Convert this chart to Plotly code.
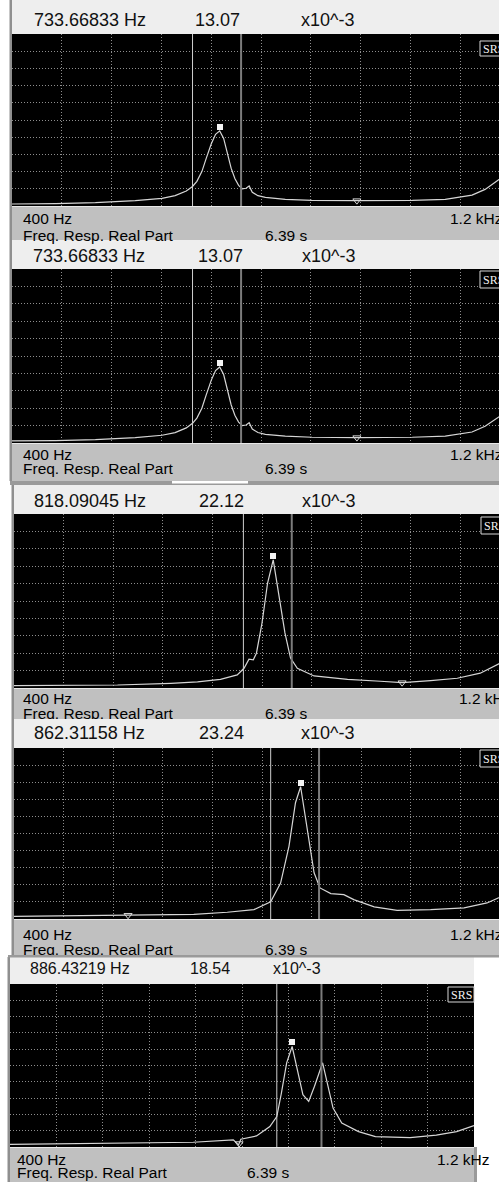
import numpy as np
import plotly.graph_objects as go

W, H = 499, 1182
SANS = "Liberation Sans"
SERIF = "Liberation Serif"

# ---------------- data (response values in units of 10^-3) ----------------
freq_a = [400, 470, 534, 598, 641, 662, 680, 690, 697, 705, 712, 720, 727, 733.67,
          740, 746, 752, 758, 764, 770, 776, 781, 786, 795, 807, 839, 882, 954,
          1043, 1096, 1139, 1160, 1182, 1200]
resp_a = [0.35, 0.40, 0.58, 0.93, 1.34, 1.8, 2.6, 3.4, 4.3, 6.0, 8.3, 10.8, 12.5, 13.1,
          11.8, 9.2, 6.6, 4.8, 3.6, 3.0, 3.1, 3.5, 2.4, 1.8, 1.5, 1.17, 0.99, 0.93,
          0.99, 1.17, 1.9, 2.9, 4.5, 6.0]

freq_c = [400, 567, 653, 696, 733, 760, 771, 779, 786, 791, 800, 809, 818.09, 827,
          837, 846, 857, 884, 938, 991, 1026, 1072, 1115, 1152, 1182, 1200]
resp_c = [0.40, 0.52, 0.81, 1.04, 1.5, 2.25, 3.4, 4.97, 4.85, 6.0, 11.2, 18.1, 22.1, 16.4,
          9.5, 5.15, 3.4, 2.08, 1.5, 1.16, 0.92, 1.27, 1.68, 2.55, 4.16, 5.6]

freq_d = [400, 584, 690, 744, 787, 814, 830, 843.5, 854, 862.31, 868, 876, 884, 893.5,
          911, 932, 948, 981, 1018, 1072, 1126, 1163, 1182, 1200]
resp_d = [0.47, 0.65, 0.80, 1.18, 1.65, 3.0, 6.3, 12.75, 20.4, 23.2, 19.2, 13.35, 8.1, 5.45,
          4.45, 4.28, 3.4, 2.12, 1.53, 1.65, 1.95, 2.82, 3.7, 4.6]

freq_e = [400, 567, 716, 785, 794, 798, 825, 848, 860, 868, 877, 886.43, 895, 905,
          915, 925, 939, 947, 957, 972, 1001, 1030, 1090, 1135, 1170, 1200]
resp_e = [0.50, 0.68, 0.87, 1.3, 0.37, 1.42, 2.04, 3.76, 5.6, 9.95, 15.5, 18.5, 14.26, 9.63,
          8.4, 11.17, 15.5, 11.8, 7.17, 4.39, 2.83, 1.9, 1.72, 2.2, 2.83, 3.95]

peak_freqs = [733.66833, 733.66833, 818.09045, 862.31158, 886.43219]
peak_vals = [13.07, 13.07, 22.12, 23.24, 18.54]
cursor_a = [690, 690, 770, 814, 860]
cursor_b = [768, 768, 848, 892, 937]
tri_freqs = [954, 954, 1026, 584, 795]
f_start, f_stop = 400, 1200
y_full = 30
unit_label = "x10^-3"
start_label = "400 Hz"
stop_label = "1.2 kHz"
meas_label = "Freq. Resp. Real Part"
time_label = "6.39 s"

curves = [(freq_a, resp_a), (freq_a, resp_a), (freq_c, resp_c), (freq_d, resp_d), (freq_e, resp_e)]

# ---------------- layout geometry (pixels) ----------------
geo = [
    dict(left=12, span=498, right=499, head=0, top=34, bot=206, foot=240),
    dict(left=12, span=498, right=499, head=240, top=269, bot=443, foot=481),
    dict(left=14, span=496, right=499, head=485, top=514, bot=688, foot=719),
    dict(left=14, span=496, right=499, head=719, top=748, bot=919, foot=955),
    dict(left=10, span=464, right=474, head=957, top=984, bot=1147, foot=1182),
]
head_y = [20, 256, 501, 733, 968]
head_fs = [18, 18, 18, 18, 16]
hx_freq = [32, 31, 32, 32, 28]
hx_val = [193, 196, 197, 197, 188]
hx_unit = [299, 300, 300, 299, 271]
foot_y1 = [219, 455, 698, 934, 1159]
foot_y2 = [235, 469, 713, 949, 1172]
foot_cut = [False, False, True, True, False]
fx_left = [21, 21, 21, 21, 15]
fx_time = [263, 263, 263, 263, 245]
fx_stop = [448, 448, 457, 448, 435]
srs_box = [(480, 41, 520, 56), (480, 271, 520, 288), (481, 517, 520, 534),
           (480, 750, 520, 767), (448, 987, 474, 1002)]


def px(x):
    return x / W


def py(y):
    return 1 - y / H


fig = go.Figure()
shapes = []
annotations = []
layout_axes = {}

for i, (g, (fr, rs)) in enumerate(zip(geo, curves)):
    n = i + 1
    xa = "x" if n == 1 else f"x{n}"
    ya = "y" if n == 1 else f"y{n}"
    xkey = "xaxis" if n == 1 else f"xaxis{n}"
    ykey = "yaxis" if n == 1 else f"yaxis{n}"
    vis_right = min(g["left"] + g["span"], W)
    x_hi = f_start + (vis_right - g["left"]) / g["span"] * (f_stop - f_start)
    dom_r = min(vis_right, g["right"]) / W

    layout_axes[xkey] = dict(
        domain=[px(g["left"]), dom_r], range=[f_start, x_hi], anchor=ya,
        tick0=f_start, dtick=(f_stop - f_start) / 10, showgrid=True,
        gridcolor="#8e8e8e", griddash="1px,2px", gridwidth=1,
        showticklabels=False, ticks="", zeroline=False, showline=False, fixedrange=True)
    layout_axes[ykey] = dict(
        domain=[py(g["bot"]), py(g["top"])], range=[0, y_full], anchor=xa,
        tick0=0, dtick=y_full / 10, showgrid=True,
        gridcolor="#8e8e8e", griddash="1px,2px", gridwidth=1,
        showticklabels=False, ticks="", zeroline=False, showline=False, fixedrange=True)

    # curve
    fig.add_trace(go.Scatter(x=fr, y=rs, xaxis=xa, yaxis=ya, mode="lines",
                             line=dict(color="#d6d6d6", width=1.2), hoverinfo="skip",
                             showlegend=False))
    # small triangle marker on trace
    ty = float(np.interp(tri_freqs[i], fr, rs))
    fig.add_trace(go.Scatter(x=[tri_freqs[i]], y=[ty], xaxis=xa, yaxis=ya, mode="markers",
                             marker=dict(symbol="triangle-down-open", size=7,
                                         color="#d8d8d8", line=dict(width=1)),
                             hoverinfo="skip", showlegend=False))
    # cursors
    shapes.append(dict(type="line", xref=xa, yref=f"{ya} domain", x0=cursor_a[i], x1=cursor_a[i],
                       y0=0, y1=1, line=dict(color="#cfcfcf", width=1)))
    shapes.append(dict(type="line", xref=xa, yref=f"{ya} domain", x0=cursor_b[i], x1=cursor_b[i],
                       y0=0, y1=1, line=dict(color="#7c7c7c", width=2)))
    # peak marker (square just above the peak)
    annotations.append(dict(xref=xa, yref=ya, x=peak_freqs[i], y=peak_vals[i], text=" ",
                            showarrow=False, width=6, height=6, bgcolor="#f4f4f4",
                            borderpad=0, borderwidth=0, yshift=4, font=dict(size=1)))

    # header / footer panels
    shapes.append(dict(type="rect", xref="paper", yref="paper", layer="below",
                       x0=px(g["left"]), x1=px(g["right"]), y0=py(g["top"]), y1=py(g["head"]),
                       fillcolor="#eeeeee", line=dict(width=0)))
    shapes.append(dict(type="rect", xref="paper", yref="paper", layer="below",
                       x0=px(g["left"]), x1=px(g["right"]), y0=py(g["foot"]), y1=py(g["bot"]),
                       fillcolor="#c0c0c0", line=dict(width=0)))
    shapes.append(dict(type="line", xref="paper", yref="paper",
                       x0=px(g["left"]), x1=px(g["right"]), y0=py(g["bot"] + 0.5), y1=py(g["bot"] + 0.5),
                       line=dict(color="#e8e8e8", width=1)))
    shapes.append(dict(type="rect", xref="paper", yref="paper",
                       x0=px(g["left"] - 2.5), x1=px(g["left"]), y0=py(g["foot"]), y1=py(g["head"]),
                       fillcolor="#8f8f8f", line=dict(width=0)))

    # header texts
    for txt, xx in [(f"{peak_freqs[i]:.5f} Hz", hx_freq[i]), (f"{peak_vals[i]:.2f}", hx_val[i]),
                    (unit_label, hx_unit[i])]:
        annotations.append(dict(xref="paper", yref="paper", x=px(xx), y=py(head_y[i]), text=txt,
                                showarrow=False, xanchor="left", yanchor="middle",
                                font=dict(family=SANS, size=head_fs[i], color="#111111")))
    # footer texts
    for txt, xx, yy, line2 in [(start_label, fx_left[i], foot_y1[i], False),
                               (stop_label, fx_stop[i], foot_y1[i], False),
                               (meas_label, fx_left[i], foot_y2[i], True),
                               (time_label, fx_time[i], foot_y2[i], True)]:
        ann = dict(xref="paper", yref="paper", x=px(xx), y=py(yy), text=txt,
                   showarrow=False, xanchor="left", yanchor="middle",
                   font=dict(family=SANS, size=15.5, color="#000000"))
        if line2 and foot_cut[i]:
            ann["height"] = 12
        annotations.append(ann)

    # SRS logo
    bx0, by0, bx1, by1 = srs_box[i]
    shapes.append(dict(type="rect", xref="paper", yref="paper",
                       x0=px(bx0), x1=px(bx1), y0=py(by1), y1=py(by0),
                       fillcolor="#000000", line=dict(color="#d8d8d8", width=1)))
    annotations.append(dict(xref="paper", yref="paper", x=px(bx0 + 1), y=py((by0 + by1) / 2 + 0.5),
                            text="SRS", showarrow=False, xanchor="left", yanchor="middle",
                            font=dict(family=SERIF, size=12, color="#f0f0f0")))

# separators between screenshots
shapes.append(dict(type="rect", xref="paper", yref="paper", x0=px(10), x1=1,
                   y0=py(485), y1=py(481), fillcolor="#9a9a9a", line=dict(width=0)))
shapes.append(dict(type="rect", xref="paper", yref="paper", x0=px(172), x1=px(248),
                   y0=py(483.5), y1=py(481), fillcolor="#ffffff", line=dict(width=0)))
shapes.append(dict(type="rect", xref="paper", yref="paper", x0=px(8), x1=1,
                   y0=py(957.5), y1=py(955), fillcolor="#9a9a9a", line=dict(width=0)))
shapes.append(dict(type="rect", xref="paper", yref="paper", x0=px(474), x1=px(477),
                   y0=py(1182), y1=py(1147), fillcolor="#9a9a9a", line=dict(width=0)))

fig.update_layout(
    width=W, height=H, margin=dict(l=0, r=0, t=0, b=0, pad=0),
    paper_bgcolor="#ffffff", plot_bgcolor="#000000",
    shapes=shapes, annotations=annotations, showlegend=False,
    **layout_axes,
)

fig.write_html("out.html", config={"displayModeBar": False})
